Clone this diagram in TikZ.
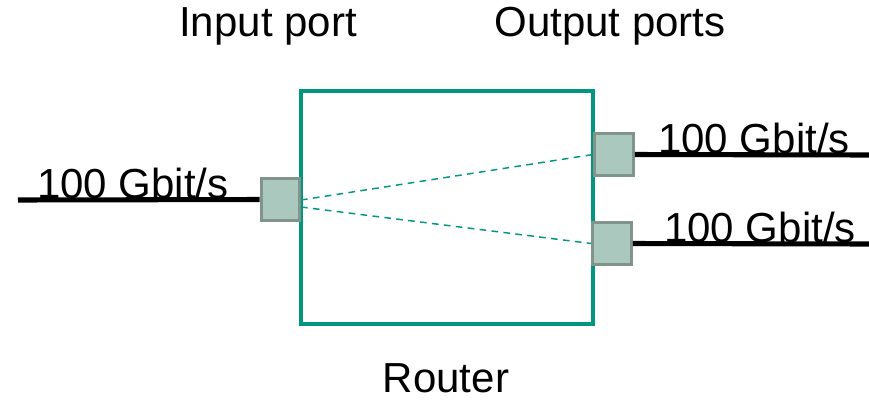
\documentclass[tikz,border=0pt]{standalone}
\usepackage{fontspec}
\setmainfont{Liberation Sans}
\definecolor{routerteal}{RGB}{0,150,128}
\definecolor{portfill}{RGB}{170,200,190}
\definecolor{portedge}{RGB}{128,148,140}
\begin{document}
\begin{tikzpicture}[x=0.75pt,y=-0.75pt,
  portbox/.style={draw=portedge,fill=portfill,line width=2.2pt,minimum width=29pt,minimum height=32pt,inner sep=0pt},
  link/.style={line width=3.8pt,black},
  path/.style={routerteal,dashed,line width=1.1pt,dash pattern=on 5pt off 4pt},
  lbl/.style={font=\fontsize{31.5}{34}\selectfont,inner sep=0pt}]
\useasboundingbox (0,0) rectangle (869,401);
% router body
\draw[routerteal,line width=2.3pt] (301,91) rectangle (593,324);
% ports
\node[portbox] (in) at (280.5,199.5) {};
\node[portbox] (out1) at (614,154.5) {};
\node[portbox] (out2) at (612,243.5) {};
% links
\coordinate (lin) at (18,200);
\coordinate (lout1) at (869,155);
\coordinate (lout2) at (869,244);
\draw[link] (lin) -- (in.west);
\draw[link] (out1.east) -- (lout1);
\draw[link] (out2.east) -- (lout2);
% internal paths
\coordinate (p1) at (301,200);
\coordinate (p2) at (301,207);
\draw[path] (p1) -- (out1.west);
\draw[path] (p2) -- (out2.west);
% labels
\node[lbl] (tin) at (268,26) {Input port};
\node[lbl] (tout) at (610,26) {Output ports};
\node[lbl] (trouter) at (446,378) {Router};
\node[lbl] (r1) at (133,183) {100 Gbit/s};
\node[lbl] (r2) at (754,138) {100 Gbit/s};
\node[lbl] (r3) at (760,227) {100 Gbit/s};
\end{tikzpicture}
\end{document}
